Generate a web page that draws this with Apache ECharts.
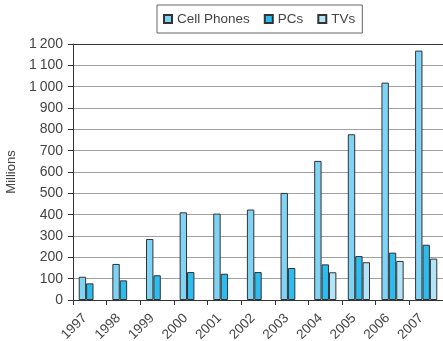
<!DOCTYPE html>
<html>
<head>
<meta charset="utf-8">
<script src="https://cdn.jsdelivr.net/npm/echarts@6/dist/echarts.min.js"></script>
<style>
  html, body { margin: 0; padding: 0; background: #fff; }
  #chart { width: 443px; height: 341px; }
</style>
</head>
<body>
<div id="chart"></div>
<script>
// data
const years = ['1997', '1998', '1999', '2000', '2001', '2002', '2003', '2004', '2005', '2006', '2007'];
const cellPhones = [109, 169, 286, 411, 405, 424, 502, 652, 777, 1019, 1169];
const pcs = [78, 92, 116, 131, 123, 131, 150, 167, 206, 222, 259];
const tvs = [null, null, null, null, null, null, null, 130, 177, 183, 194];
const yTickLabels = {0: '0', 100: '100', 200: '200', 300: '300', 400: '400', 500: '500', 600: '600',
  700: '700', 800: '800', 900: '900', 1000: '1\u2009000', 1100: '1\u2009100', 1200: '1\u2009200'};

const colors = ['#7fd4f6', '#2cbcef', '#b4e4f8'];
const font = '"Liberation Sans", Arial, sans-serif';

const chart = echarts.init(document.getElementById('chart'));

const bar = (name, data, color) => ({
  name,
  type: 'bar',
  data,
  barWidth: 7.4,
  barGap: '0%',
  itemStyle: { color, borderColor: '#333', borderWidth: 1 },
});

chart.setOption({
  animation: false,
  textStyle: { fontFamily: font },
  legend: {
    left: 157,
    top: 5,
    padding: [7, 7, 7, 6],
    itemGap: 14,
    itemWidth: 8,
    itemHeight: 8,
    icon: 'rect',
    borderColor: '#666',
    borderWidth: 1,
    textStyle: { fontSize: 13.5, color: '#444', fontFamily: font },
    data: ['Cell Phones', 'PCs', 'TVs'],
  },
  grid: { left: 73, right: 0, top: 44, bottom: 41, containLabel: false, outerBoundsMode: 'none' },
  xAxis: [
    {
      type: 'category',
      data: years,
      axisLine: { lineStyle: { color: '#333', width: 1 } },
      axisTick: { show: true, length: 5, lineStyle: { color: '#333' } },
      axisLabel: { rotate: 45, margin: 11, padding: [0, 7, 0, 0], fontSize: 13.5, color: '#444', fontFamily: font },
    },
    {
      type: 'category',
      data: years,
      position: 'top',
      axisLine: { show: true, lineStyle: { color: '#333', width: 1 } },
      axisTick: { show: false },
      axisLabel: { show: false },
    },
  ],
  yAxis: {
    type: 'value',
    min: 0,
    max: 1200,
    interval: 100,
    name: 'Millions',
    nameLocation: 'middle',
    nameGap: 55,
    nameTextStyle: { fontSize: 13, color: '#444', fontFamily: font },
    axisLine: { show: true, lineStyle: { color: '#333', width: 1 } },
    axisTick: { show: true, length: 5, lineStyle: { color: '#333' } },
    axisLabel: { margin: 10, fontSize: 14, color: '#444', fontFamily: font,
      formatter: (v) => yTickLabels[v] },
    splitLine: { show: true, lineStyle: { color: '#a0a0a0', width: 1 } },
  },
  series: [
    bar('Cell Phones', cellPhones, colors[0]),
    bar('PCs', pcs, colors[1]),
    bar('TVs', tvs, colors[2]),
  ],
});
</script>
</body>
</html>
